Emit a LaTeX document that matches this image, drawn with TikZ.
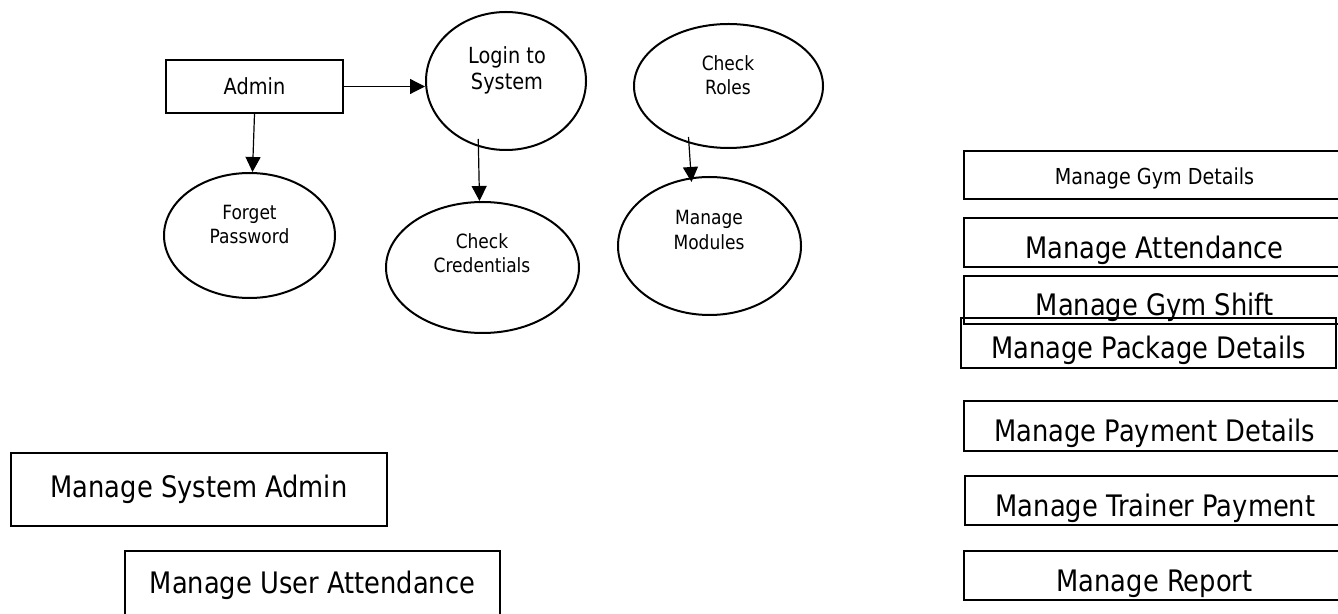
\documentclass[tikz,border=0pt]{standalone}
\usepackage{fontspec}
\setmainfont{DejaVu Sans}[FakeStretch=0.87]
\usetikzlibrary{arrows.meta}
\usetikzlibrary{shapes.geometric}

\begin{document}
\begin{tikzpicture}[x=0.5pt,y=-0.5pt,>={Triangle[length=7.5pt,width=7.5pt]},
  ent/.style={draw,line width=1pt,inner sep=0pt},
  proc/.style={draw,ellipse,line width=1pt,inner sep=0pt},
  rbox/.style={ent,minimum width=190.5pt,font=\fontsize{14.8}{17}\selectfont,text height=19.4pt,text depth=3.5pt},
  big/.style={font=\fontsize{14.8}{17}\selectfont},
  mid/.style={font=\fontsize{11.1}{13}\selectfont,align=center},
  small/.style={font=\fontsize{9.8}{12.25}\selectfont,align=center},
  flow/.style={->,line width=0.6pt}]
\useasboundingbox (0,0) rectangle (1338,614);
% admin and login
\node [ent,mid,minimum width=88.5pt,minimum height=26.5pt] (admin) at (254.5,86.5) {Admin};
\node [proc,minimum width=80pt,minimum height=69pt] (login) at (506,81) {};
\node [mid] (login-t) at (507,70.5) {Login to\\System};
\node [proc,minimum width=85.5pt,minimum height=62.5pt] (forget) at (249.5,235.5) {};
\node [small] (forget-t) at (249.5,224.6) {Forget\\Password};
\node [proc,minimum width=96.5pt,minimum height=65.5pt] (check) at (482.5,267.5) {};
\node [small] (check-t) at (482,253.4) {Check\\Credentials};
% roles and modules
\node [proc,minimum width=94.5pt,minimum height=62pt] (roles) at (728.5,86) {};
\node [small] (roles-t) at (728,75.1) {Check\\Roles};
\node [proc,minimum width=91.5pt,minimum height=69pt] (mods) at (709.5,246) {};
\node [small] (mods-t) at (709,229.8) {Manage\\Modules};
\draw [flow] (admin.east) -- (admin.east -| login.west);
\draw [flow] (admin.south) -- ([xshift=1.5pt]forget.north);
\draw [flow,shorten <=-6pt] ([xshift=-2pt]check.north |- login.south) -- ([xshift=-1.5pt]check.north);
\draw [flow] ([xshift=-20pt,yshift=6pt]roles.south) -- ([xshift=-9pt,yshift=-3pt]mods.north);
% right column
\node [rbox,font=\fontsize{11}{13}\selectfont,text height=12.6pt,text depth=2.6pt,minimum height=24pt] (gym) at (1154.5,175) {Manage Gym Details};
\node [rbox,minimum height=24.5pt] (att) at (1154.5,242.5) {Manage Attendance};
\node [rbox,minimum height=24pt] (shift) at (1154.5,300) {Manage Gym Shift};
\node [rbox,minimum width=187.5pt,minimum height=25pt] (pack) at (1148.5,343) {Manage Package Details};
\node [rbox,minimum height=25pt] (pay) at (1154.5,426) {Manage Payment Details};
\node [rbox,minimum height=24.5pt] (trainer) at (1155.5,500.5) {Manage Trainer Payment};
\node [rbox,minimum height=24.5pt] (report) at (1154.5,575.5) {Manage Report};
% left bottom
\node [ent,big,minimum width=188pt,minimum height=36.5pt] (sysadmin) at (199,489.5) {Manage System Admin};
\node [ent,big,minimum width=187.5pt,minimum height=34.5pt] (useratt) at (312.5,585.5) {Manage User Attendance};
\end{tikzpicture}
\end{document}
